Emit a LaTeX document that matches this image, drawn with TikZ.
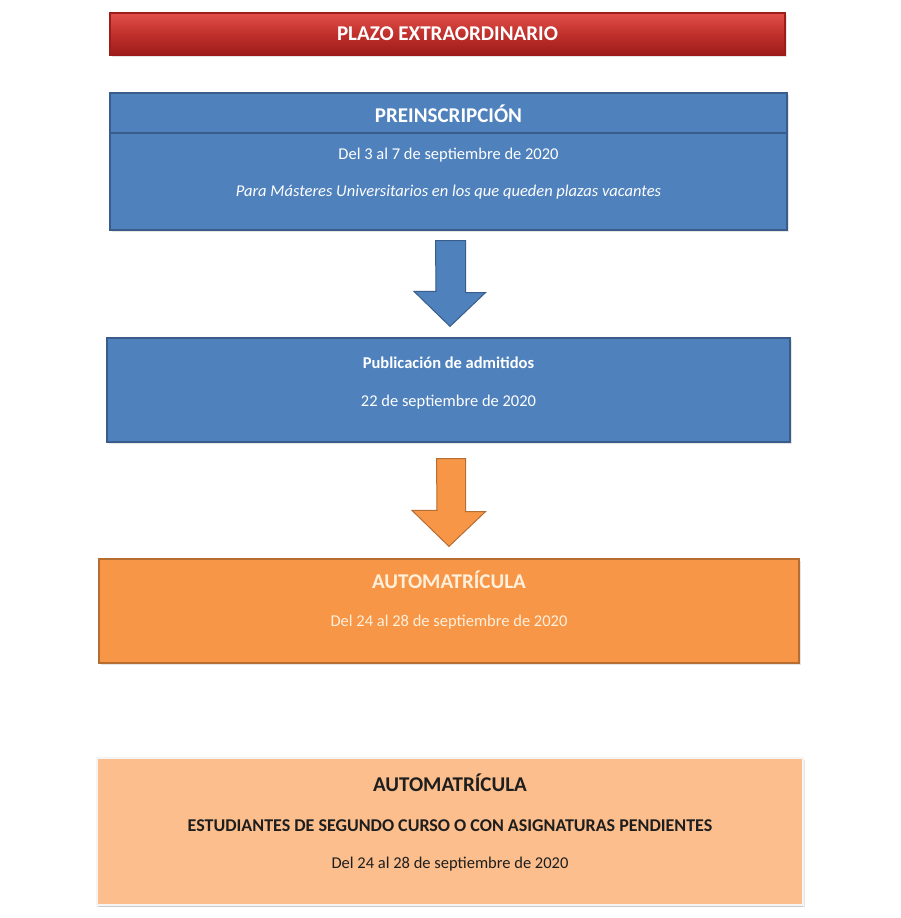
\documentclass[tikz,border=0pt]{standalone}
\usepackage{fontspec}
\setmainfont{Carlito}
\usepackage{tikz}
\usetikzlibrary{shadows, positioning, calc}

\begin{document}
\begin{tikzpicture}[x=1pt, y=-1pt]
% --- CORES, SOMBRAS E CAIXAS DO CALENDARIO ---
\definecolor{rojo}{HTML}{C0302C}
\definecolor{rojoclaro}{HTML}{E2504A}
\definecolor{rojooscuro}{HTML}{9E1C1A}
\definecolor{azul}{HTML}{4F81BD}
\definecolor{azulborde}{HTML}{385D8A}
\definecolor{naranja}{HTML}{F79646}
\definecolor{naranjaborde}{HTML}{B66D31}
\definecolor{naranjaclaro}{HTML}{FBBE8C}
\definecolor{textonaranja}{HTML}{FFF0DC}
\definecolor{textooscuro}{HTML}{1E1E1E}
\tikzset{
  caja/.style={rectangle, draw, line width=1.2pt, inner sep=0pt, drop shadow={opacity=0.2, shadow xshift=1.5pt, shadow yshift=-2pt}},
  texto/.style={inner sep=0pt, font=\fontsize{16.5}{19}\selectfont},
  titulo/.style={inner sep=0pt, font=\fontsize{21}{24}\selectfont\bfseries},
  flecha/.style={line width=1pt, line join=miter}
}
\useasboundingbox[fill=white] (0,0) rectangle (900,918);

% LAYER 1: Cabecera roja
\node[caja, draw=rojooscuro, top color=rojoclaro, bottom color=rojooscuro, middle color=rojo, minimum width=675pt, minimum height=42pt] (plazo) at (447.5,34) {};
\node[titulo, text=white] (plazotxt) at (plazo.center) {PLAZO EXTRAORDINARIO};

% LAYER 2: Preinscripcion
\node[caja, draw=azulborde, fill=azul, minimum width=677pt, minimum height=137pt] (pre) at (448.5,161.5) {};
\draw[line width=2pt, draw=azulborde] (pre.west |- 0,133) -- (pre.east |- 0,133);
\node[titulo, text=white] (pretit) at (448.5,114) {PREINSCRIPCIÓN};
\node[texto, text=white] (prefecha) at (448.5,155) {Del 3 al 7 de septiembre de 2020};
\node[texto, text=white, font=\fontsize{16.5}{19}\selectfont\itshape] (prenota) at (448.5,192) {Para Másteres Universitarios en los que queden plazas vacantes};

% LAYER 3: Publicacion de admitidos
\node[caja, draw=azulborde, fill=azul, minimum width=683pt, minimum height=104pt] (pub) at (448.5,390) {};
\node[texto, text=white, font=\fontsize{16.5}{19}\selectfont\bfseries] (pubtit) at (448.5,363) {Publicación de admitidos};
\node[texto, text=white] (pubfecha) at (448.5,402) {22 de septiembre de 2020};

% LAYER 4: Automatricula
\node[caja, draw=naranjaborde, fill=naranja, minimum width=700pt, minimum height=104pt] (auto) at (449,611) {};
\node[titulo, text=textonaranja] (autotit) at (449,580) {AUTOMATRÍCULA};
\node[texto, text=textonaranja] (autofecha) at (449,622) {Del 24 al 28 de septiembre de 2020};

% LAYER 5: Segundo curso
\node[caja, draw=white!92!gray, line width=2.5pt, fill=naranjaclaro, drop shadow={opacity=0.25, shadow xshift=0pt, shadow yshift=-2pt}, minimum width=706pt, minimum height=147pt] (seg) at (450,831.5) {};
\node[titulo, text=textooscuro] (segtit) at (450,783) {AUTOMATRÍCULA};
\node[texto, text=textooscuro, font=\fontsize{18}{21}\selectfont\bfseries] (segest) at (450,826) {ESTUDIANTES DE SEGUNDO CURSO O CON ASIGNATURAS PENDIENTES};
\node[texto, text=textooscuro] (segfecha) at (450,864) {Del 24 al 28 de septiembre de 2020};

% LAYER 6: Flechas de bloque
\draw[flecha, draw=azulborde, fill=azul] ($(pre.south)+(-13,10)$) -- ++(30,0) -- ++(0,52) -- ++(20,0) -- ($(pub.north)+(1.5,-11)$) -- ++(-36,-35) -- ++(22,0) -- cycle;
\draw[flecha, draw=naranjaborde, fill=naranja] ($(pub.south)+(-12,16)$) -- ++(29,0) -- ++(0,53) -- ++(20,0) -- ($(auto.north)+(0,-12)$) -- ++(-37,-36) -- ++(25,0) -- cycle;
\end{tikzpicture}
\end{document}
